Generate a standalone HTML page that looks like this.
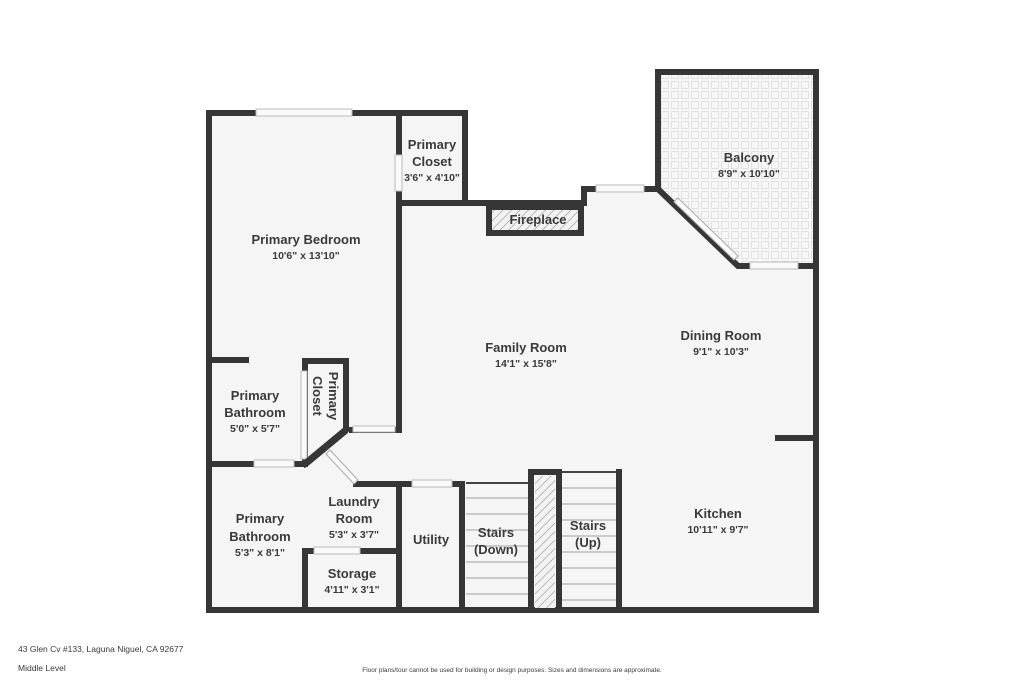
<!DOCTYPE html>
<html><head><meta charset="utf-8"><style>
html,body{margin:0;padding:0;background:#fff;}
svg{display:block;}
text{font-family:"Liberation Sans",sans-serif;fill:#3a3a3a;}
.n{font-size:13px;font-weight:bold;text-anchor:middle;}
.d{font-size:10.5px;font-weight:bold;text-anchor:middle;}
</style></head><body>
<svg width="1024" height="683" viewBox="0 0 1024 683" xmlns="http://www.w3.org/2000/svg">
<defs>
<pattern id="tile" width="10" height="10" patternUnits="userSpaceOnUse">
<rect width="10" height="10" fill="#f7f7f7"/><rect x="1.5" y="1.5" width="7" height="7" fill="none" stroke="#dcdcdc" stroke-width="0.8"/>
</pattern>
<pattern id="hatch" width="6" height="6" patternUnits="userSpaceOnUse" patternTransform="rotate(45)">
<rect width="6" height="6" fill="#f2f2f2"/><line x1="0" y1="0" x2="0" y2="6" stroke="#888" stroke-width="1"/>
</pattern>
</defs>
<g fill="#f5f5f5">
<rect x="209" y="113" width="256" height="497"/>
<rect x="399" y="203" width="417" height="407"/>
<rect x="584" y="189" width="74" height="20"/>
</g>
<polygon points="658,72 816,72 816,266 740,266 660,189" fill="url(#tile)"/>
<polygon points="658,189 740,266 816,266 816,300 658,300" fill="#f5f5f5"/>
<g stroke="#bbb" stroke-width="1.5">
<line x1="466" y1="498" x2="530" y2="498"/><line x1="466" y1="514" x2="530" y2="514"/><line x1="466" y1="530" x2="530" y2="530"/><line x1="466" y1="546" x2="530" y2="546"/><line x1="466" y1="562" x2="530" y2="562"/><line x1="466" y1="578" x2="530" y2="578"/><line x1="466" y1="594" x2="530" y2="594"/>
<line x1="562" y1="488" x2="616" y2="488"/><line x1="562" y1="504" x2="616" y2="504"/><line x1="562" y1="520" x2="616" y2="520"/><line x1="562" y1="536" x2="616" y2="536"/><line x1="562" y1="552" x2="616" y2="552"/><line x1="562" y1="568" x2="616" y2="568"/><line x1="562" y1="584" x2="616" y2="584"/><line x1="562" y1="600" x2="616" y2="600"/>
</g>
<line x1="466" y1="483" x2="530" y2="483" stroke="#444" stroke-width="2"/>
<line x1="562" y1="472" x2="616" y2="472" stroke="#444" stroke-width="2"/>
<g fill="none" stroke="#363636" stroke-width="6" stroke-linecap="square" stroke-linejoin="miter">
<polyline points="209,610 209,113 465,113 465,203 402,203"/>
<polyline points="399,113 399,430 352,430"/>
<polyline points="399,203 584,203"/>
<polyline points="584,203 584,189 658,189 658,72 816,72 816,610 209,610"/>
<polyline points="658,189 738,266 816,266"/>
<line x1="778" y1="438" x2="816" y2="438"/>
<line x1="209" y1="360" x2="246" y2="360"/>
<polyline points="305,464 305,361 346,361 346,430 305,464"/>
<line x1="209" y1="464" x2="305" y2="464"/>
<polyline points="356,484 462,484 462,610"/>
<line x1="399" y1="484" x2="399" y2="610"/>
<polyline points="305,610 305,551 399,551"/>
<line x1="619" y1="472" x2="619" y2="610"/>
<rect x="489" y="207" width="92" height="26"/>
<rect x="531" y="472" width="28" height="138"/>
</g>
<rect x="535" y="476" width="20" height="132" fill="url(#hatch)"/>
<rect x="492" y="210" width="86" height="20" fill="url(#hatch)"/>
<g fill="#fafafa" stroke="#bbb" stroke-width="1">
<rect x="256" y="109" width="96" height="7"/>
<rect x="395" y="155" width="7" height="36"/>
<rect x="353" y="426" width="42" height="6"/>
<rect x="301" y="371" width="6" height="88"/>
<rect x="254" y="460" width="40" height="7"/>
<rect x="412" y="480" width="40" height="7"/>
<rect x="314" y="547" width="46" height="7"/>
<rect x="596" y="185" width="48" height="7"/>
<rect x="750" y="262" width="48" height="7"/>
</g>
<polygon points="674,202 678,198 738,256 734,260" fill="#fafafa" stroke="#aaa" stroke-width="1"/>
<polygon points="326,454 330,450 358,480 354,484" fill="#fafafa" stroke="#aaa" stroke-width="1"/>
<line x1="305" y1="464" x2="346" y2="430" stroke="#363636" stroke-width="7"/>
<text class="n" x="306" y="244">Primary Bedroom</text><text class="d" x="306" y="259">10'6" x 13'10"</text>
<text class="n" x="432" y="149">Primary</text><text class="n" x="432" y="166">Closet</text><text class="d" x="432" y="181">3'6" x 4'10"</text>
<text class="n" x="749" y="162">Balcony</text><text class="d" x="749" y="177">8'9" x 10'10"</text>
<text class="n" x="538" y="224">Fireplace</text>
<text class="n" x="526" y="352">Family Room</text><text class="d" x="526" y="367">14'1" x 15'8"</text>
<text class="n" x="721" y="340">Dining Room</text><text class="d" x="721" y="355">9'1" x 10'3"</text>
<text class="n" x="718" y="518">Kitchen</text><text class="d" x="718" y="533">10'11" x 9'7"</text>
<text class="n" x="255" y="400">Primary</text><text class="n" x="255" y="417">Bathroom</text><text class="d" x="255" y="432">5'0" x 5'7"</text>
<text class="n" transform="translate(329,396) rotate(90)">Primary</text>
<text class="n" transform="translate(313,396) rotate(90)">Closet</text>
<text class="n" x="260" y="523">Primary</text><text class="n" x="260" y="541">Bathroom</text><text class="d" x="260" y="556">5'3" x 8'1"</text>
<text class="n" x="354" y="506">Laundry</text><text class="n" x="354" y="523">Room</text><text class="d" x="354" y="538">5'3" x 3'7"</text>
<text class="n" x="352" y="578">Storage</text><text class="d" x="352" y="593">4'11" x 3'1"</text>
<text class="n" x="431" y="544">Utility</text>
<text class="n" x="496" y="537">Stairs</text><text class="n" x="496" y="554">(Down)</text>
<text class="n" x="588" y="530">Stairs</text><text class="n" x="588" y="547">(Up)</text>
<text x="18" y="652" style="font-size:8.5px">43 Glen Cv #133, Laguna Niguel, CA 92677</text>
<text x="18" y="671" style="font-size:8.5px">Middle Level</text>
<text x="512" y="672" style="font-size:6.5px;text-anchor:middle">Floor plans/tour cannot be used for building or design purposes. Sizes and dimensions are approximate.</text>
</svg>
</body></html>
